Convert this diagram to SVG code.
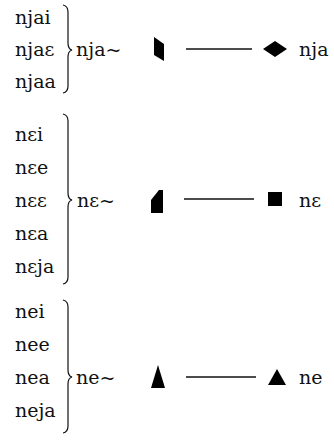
<svg xmlns="http://www.w3.org/2000/svg" width="334" height="441" viewBox="0 0 334 441">
  <style>
    text { font-family: "DejaVu Serif", "Liberation Serif", serif; font-size: 19px; fill: #111; }
    .brace { fill: none; stroke: #111; stroke-width: 1.2; }
    .link { stroke: #111; stroke-width: 1.4; }
    .glyph { fill: #000; }
  </style>

  <!-- row 1: nja -->
  <g id="forms-nja">
    <text x="15" y="24">njai</text>
    <text x="15" y="56">njaε</text>
    <text x="15" y="88">njaa</text>
    <path class="brace" d="M63,5 Q68,6 68,12 L68,43 Q68,49 72,50 Q68,51 68,57 L68,86 Q68,92 63,93"/>
  </g>
  <g id="root-nja">
    <text x="76" y="56">nja~</text>
    <path class="glyph" d="M154,37 L164,44 L164,61 L154,55 Z"/>
  </g>
  <g id="sign-nja">
    <path class="glyph" d="M275,41 L287,49 L275,57 L263,49 Z"/>
    <text x="299" y="56">nja</text>
  </g>

  <!-- row 2: nε -->
  <g id="forms-ne-open">
    <text x="15" y="141">nεi</text>
    <text x="15" y="174">nεe</text>
    <text x="15" y="207">nεε</text>
    <text x="15" y="240">nεa</text>
    <text x="15" y="273">nεja</text>
    <path class="brace" d="M63,114 Q68,115 68,121 L68,193 Q68,199 72,200 Q68,201 68,207 L68,277 Q68,283 63,284"/>
  </g>
  <g id="root-ne-open">
    <text x="77" y="207">nε~</text>
    <path class="glyph" d="M151,200 L159,190 L163,190 L163,213 L151,213 Z"/>
  </g>
  <g id="sign-ne-open">
    <rect class="glyph" x="268" y="192" width="14" height="14"/>
    <text x="299" y="207">nε</text>
  </g>

  <!-- row 3: ne -->
  <g id="forms-ne">
    <text x="15" y="318">nei</text>
    <text x="15" y="351">nee</text>
    <text x="15" y="384">nea</text>
    <text x="15" y="417">neja</text>
    <path class="brace" d="M63,300 Q68,301 68,307 L68,370 Q68,376 72,377 Q68,378 68,384 L68,426 Q68,432 63,433"/>
  </g>
  <g id="root-ne">
    <text x="76" y="384">ne~</text>
    <path class="glyph" d="M158,365 L165,388 L151,388 Z"/>
  </g>
  <g id="sign-ne">
    <path class="glyph" d="M277,369 L286,385 L268,385 Z"/>
    <text x="299" y="384">ne</text>
  </g>

  <!-- connectors -->
  <g id="connectors">
    <line class="link" x1="186" y1="49" x2="252" y2="49"/>
    <line class="link" x1="184" y1="199" x2="254" y2="199"/>
    <line class="link" x1="186" y1="377" x2="256" y2="377"/>
  </g>
</svg>
